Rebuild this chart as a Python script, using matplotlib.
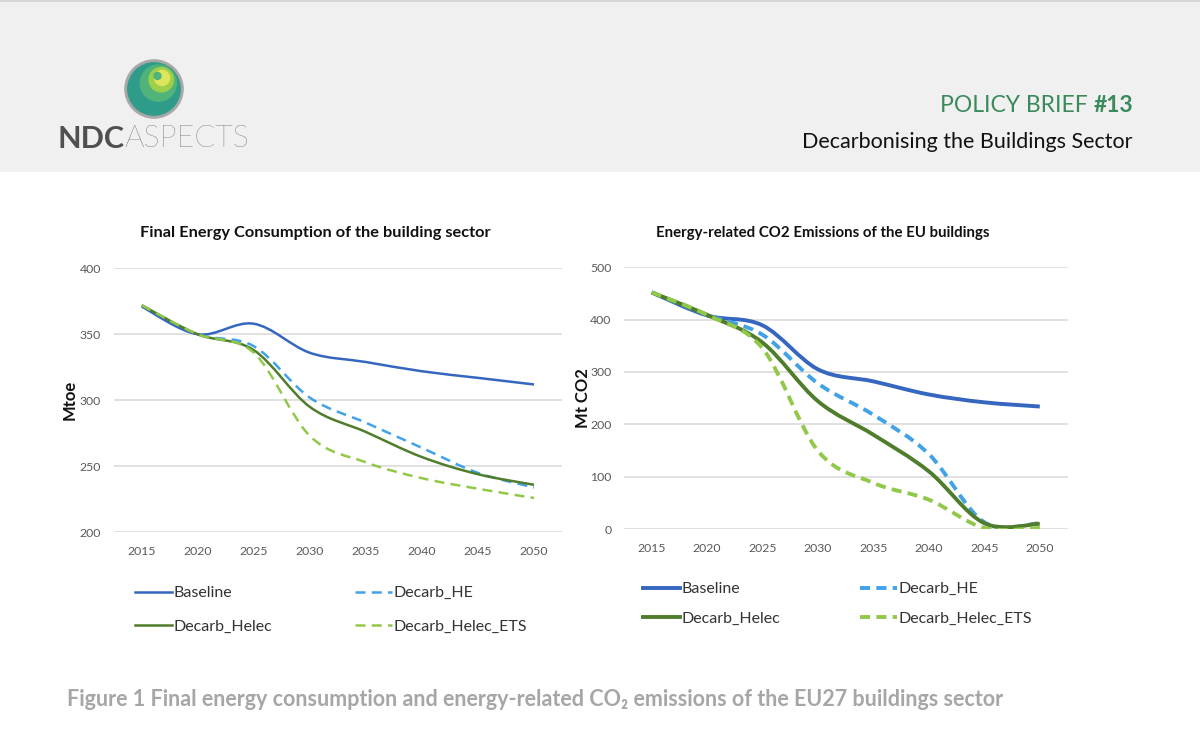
import matplotlib
matplotlib.use('Agg')
import matplotlib.pyplot as plt
from matplotlib.path import Path
from matplotlib.patches import PathPatch, Circle, Rectangle
from matplotlib.lines import Line2D

plt.rcParams['font.family'] = ['Lato', 'DejaVu Sans']

years = [2015, 2020, 2025, 2030, 2035, 2040, 2045, 2050]
series_names = ['Baseline', 'Decarb_HE', 'Decarb_Helec', 'Decarb_Helec_ETS']

# final energy consumption, Mtoe
fec_baseline = [371, 350, 358, 336, 329, 322, 317, 312]
fec_he = [372, 350, 341, 302, 283, 264, 245, 234]
fec_helec = [372, 350, 338, 295, 276, 257, 244, 236]
fec_ets = [372, 350, 336, 273, 253, 241, 233, 226]

# energy related CO2 emissions, Mt CO2
co2_baseline = [452, 408, 389, 305, 282, 257, 242, 234]
co2_he = [452, 409, 371, 278, 218, 143, 13, 11]
co2_helec = [452, 409, 356, 244, 180, 110, 11, 10]
co2_ets = [452, 409, 345, 149, 88, 56, 2, 2]

COLORS = ['#3566c0', '#41a2e8', '#4f7d2c', '#92c84a']
DASHED = [False, True, False, True]
W, H = 1200, 733


def smooth_path(xs, ys):
    # excel-like smoothed line: cubic bezier through every point
    verts = [(xs[0], ys[0])]
    codes = [Path.MOVETO]
    n = len(xs)
    for i in range(n - 1):
        xp, yp = (xs[i - 1], ys[i - 1]) if i > 0 else (xs[i], ys[i])
        xn, yn = (xs[i + 2], ys[i + 2]) if i + 2 < n else (xs[i + 1], ys[i + 1])
        c1 = (xs[i] + (xs[i + 1] - xp) / 6, ys[i] + (ys[i + 1] - yp) / 6)
        c2 = (xs[i + 1] - (xn - xs[i]) / 6, ys[i + 1] - (yn - ys[i]) / 6)
        verts += [c1, c2, (xs[i + 1], ys[i + 1])]
        codes += [Path.CURVE4] * 3
    return Path(verts, codes)


def box(x0, y0, x1, y1):
    # pixel box (top-left origin) -> figure fraction rect
    return [x0 / W, 1 - y1 / H, (x1 - x0) / W, (y1 - y0) / H]


def draw_chart(ax, data, ylim, yticks, lw, dash, ylabel, label_x):
    for vals, col, dashed in zip(data, COLORS, DASHED):
        ls = (0, dash) if dashed else '-'
        ax.add_patch(PathPatch(smooth_path(years, vals), fill=False, edgecolor=col,
                               lw=lw, linestyle=ls, capstyle='butt', zorder=3))
    ax.set_xlim(2012.5, 2052.5)
    ax.set_ylim(*ylim)
    ax.set_xticks(years)
    ax.set_yticks(yticks)
    ax.grid(axis='y', color='#d9d9d9', lw=1.1)
    ax.set_axisbelow(True)
    for s in ax.spines.values():
        s.set_visible(False)
    ax.tick_params(length=0, labelsize=8.8, labelcolor='#595959')
    ax.tick_params(axis='x', pad=10)
    ax.tick_params(axis='y', pad=9)
    ax.set_ylabel(ylabel, fontsize=12, fontweight='bold', color='#111111')
    ax.yaxis.set_label_coords(label_x, 0.5)


def add_legend(idx, lw, dash, x, y_mid, spacing):
    handles = [Line2D([], [], color=COLORS[i], lw=lw,
                      linestyle=(0, dash) if DASHED[i] else '-') for i in idx]
    fig.legend(handles, [series_names[i] for i in idx], loc='center left',
               frameon=False, bbox_to_anchor=(x / W, 1 - y_mid / H),
               fontsize=11.5, handlelength=2.3, handletextpad=0.1,
               labelspacing=spacing, borderpad=0, borderaxespad=0,
               labelcolor='#333333')


fig = plt.figure(figsize=(12, 7.33), dpi=100)

# page decoration
page = fig.add_axes([0, 0, 1, 1], zorder=-5)
page.set_xlim(0, W)
page.set_ylim(H, 0)
page.axis('off')
page.add_patch(Rectangle((0, 0), W, 172, color='#f0f0f0', lw=0))
page.add_patch(Rectangle((0, 0), W, 2, color='#d6d6d6', lw=0))

t13 = page.text(1133, 105, '#13', ha='right', va='center', fontsize=16.5,
                color='#3a8a5c', fontweight='bold')
page.annotate('POLICY BRIEF', xy=(0, 0), xycoords=t13, xytext=(-4, 0),
              textcoords='offset points', ha='right', va='bottom',
              fontsize=16.5, color='#3a8a5c')
page.text(1133, 142, 'Decarbonising the Buildings Sector', ha='right', va='center',
          fontsize=15.5, color='#111111')

ndc = page.text(57, 139, 'NDC', ha='left', va='center', fontsize=22,
                fontweight='bold', color='#505050')
page.annotate('ASPECTS', xy=(1, 0), xycoords=ndc, ha='left', va='bottom',
              fontsize=22, fontweight='light', color='#4e4e4e')

# logo
logo = fig.add_axes(box(122, 57, 186, 121))
logo.set_xlim(-1.1, 1.1)
logo.set_ylim(-1.1, 1.1)
logo.set_aspect('equal')
logo.axis('off')
logo.add_patch(Circle((0, 0), 1.0, color='#a8a8a8'))
logo.add_patch(Circle((0, 0), 0.9, color='#2f9c8a'))
logo.add_patch(Circle((0.15, 0.2), 0.62, color='#4fb37a'))
logo.add_patch(Circle((0.25, 0.32), 0.42, color='#9ccf4a'))
logo.add_patch(Circle((0.28, 0.38), 0.26, color='#dde55a'))
logo.add_patch(Circle((0.12, 0.45), 0.12, color='#4fb37a'))

# charts
ax1 = fig.add_axes(box(113.7, 268.3, 562, 532.3))
draw_chart(ax1, [fec_baseline, fec_he, fec_helec, fec_ets], (200, 400),
           [200, 250, 300, 350, 400], 1.8, (4, 2.5), 'Mtoe', -0.08)

ax2 = fig.add_axes(box(624, 267.3, 1067.5, 529))
draw_chart(ax2, [co2_baseline, co2_he, co2_helec, co2_ets], (0, 500),
           [0, 100, 200, 300, 400, 500], 2.8, (2.6, 1.6), 'Mt CO2', -0.074)

page.text(315, 233, 'Final Energy Consumption of the building sector', ha='center',
          va='center', fontsize=11.8, fontweight='bold', color='#111111')
page.text(823, 233, 'Energy-related CO2 Emissions of the EU buildings', ha='center',
          va='center', fontsize=10.8, fontweight='bold', color='#111111')

# legends, one per column
add_legend([0, 2], 1.8, (4, 2.5), 135, 610, 1.22)
add_legend([1, 3], 1.8, (4, 2.5), 355, 610, 1.22)
add_legend([0, 2], 2.8, (2.6, 1.6), 643, 604, 0.97)
add_legend([1, 3], 2.8, (2.6, 1.6), 860, 604, 0.97)

page.text(67, 700, 'Figure 1 Final energy consumption and energy-related CO\u2082 emissions '
          'of the EU27 buildings sector', ha='left', va='center', fontsize=15.5,
          fontweight='bold', color='#a6a6a6')

fig.savefig('out.png', dpi=100)
